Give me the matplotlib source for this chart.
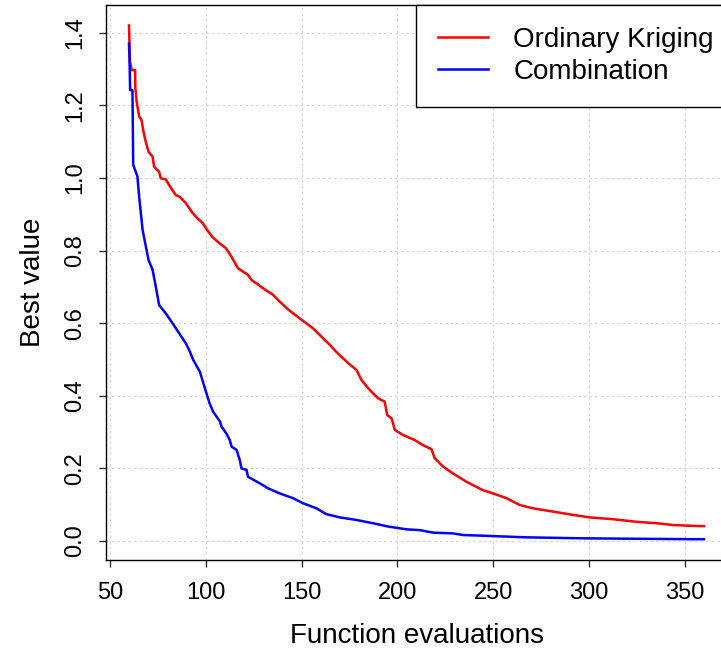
import matplotlib
matplotlib.use("Agg")
import matplotlib.pyplot as plt

plt.rcParams['font.family'] = ['Liberation Sans', 'DejaVu Sans']

# Ordinary Kriging (curve points)
ok_x = [60, 60.5, 61.5, 63.2, 63.3, 64, 65.3, 66.5, 67.5, 68.5, 70.2, 72.3, 73.1, 75.7, 76.6,
        79.2, 81, 84.4, 86.5, 89.6, 93.1, 95.5, 98.4, 101, 103.6, 107, 110.5, 113.5,
        116.9, 122.1, 123.9, 127, 130, 135.2, 138.7, 143, 149.1, 156, 160, 164.8, 168,
        171.7, 175, 178.7, 181.3, 185.6, 190, 193.4, 194.7, 197, 198.7, 203, 209.1,
        213.4, 217.8, 219.5, 223.9, 229.1, 236.1, 244.7, 250, 256.9, 263.9, 270.8,
        281.2, 291.7, 300.4, 312.6, 324.7, 335.2, 343.9, 357.8, 360]
ok_y = [1.42, 1.32, 1.297, 1.297, 1.25, 1.21, 1.169, 1.16, 1.13, 1.105, 1.072, 1.059, 1.031,
        1.017, 0.999, 0.996, 0.98, 0.953, 0.948, 0.931, 0.904, 0.89, 0.876, 0.855,
        0.837, 0.821, 0.807, 0.783, 0.751, 0.733, 0.719, 0.708, 0.696, 0.678, 0.659,
        0.638, 0.613, 0.586, 0.565, 0.54, 0.522, 0.503, 0.487, 0.471, 0.4435, 0.416,
        0.393, 0.384, 0.347, 0.338, 0.306, 0.292, 0.278, 0.264, 0.253, 0.228, 0.205,
        0.186, 0.163, 0.14, 0.131, 0.118, 0.099, 0.09, 0.081, 0.072, 0.065, 0.06,
        0.053, 0.049, 0.044, 0.041, 0.041]

# Combination (curve points)
cb_x = [60, 60.3, 60.6, 61.8, 62.2, 64.4, 65.3, 67.1, 68.8, 70.2, 72.3, 74, 75.7, 79.2, 82.7,
        86.2, 89.6, 91.4, 93.5, 97, 98.5, 100.4, 102, 103.9, 107.4, 108.3, 110.9,
        112.6, 113.5, 116.1, 117.8, 118.7, 121.3, 122.1, 128.2, 132.6, 138.7, 145.6,
        150.8, 157.8, 163, 170, 178.7, 189.1, 195, 200, 205, 211.7, 218.7, 229, 234.3,
        249.1, 266.5, 296.9, 353.5, 360]
cb_y = [1.37, 1.32, 1.242, 1.242, 1.036, 1.004, 0.948, 0.857, 0.811, 0.774, 0.747, 0.70, 0.65,
        0.627, 0.60, 0.572, 0.545, 0.526, 0.499, 0.466, 0.44, 0.407, 0.38, 0.356, 0.33,
        0.315, 0.295, 0.278, 0.26, 0.251, 0.223, 0.2, 0.196, 0.177, 0.159, 0.145,
        0.131, 0.118, 0.104, 0.09, 0.074, 0.065, 0.058, 0.047, 0.04, 0.036, 0.032,
        0.030, 0.023, 0.021, 0.0165, 0.0138, 0.0102, 0.0074, 0.005, 0.005]

series_labels = ["Ordinary Kriging", "Combination"]
x_ticks = [50, 100, 150, 200, 250, 300, 350]
y_ticks = [0.0, 0.2, 0.4, 0.6, 0.8, 1.0, 1.2, 1.4]
y_ticklabels = ["0.0", "0.2", "0.4", "0.6", "0.8", "1.0", "1.2", "1.4"]

W, H = 721, 648
fig = plt.figure(figsize=(W / 100, H / 100), dpi=100)
ax = fig.add_axes([106 / W, 1 - 560 / H, 621 / W, (560 - 4.8) / H])

ax.plot(ok_x, ok_y, color='#ff0000', lw=1.8, label=series_labels[0])
ax.plot(cb_x, cb_y, color='#0000ff', lw=1.8, label=series_labels[1])

ax.set_xlim(48, 372)
ax.set_ylim(-0.0523, 1.477)
ax.set_xticks(x_ticks)
ax.set_yticks(y_ticks)
ax.set_yticklabels(y_ticklabels, rotation=90, va='center')
ax.grid(True, color='#d3d3d3', linestyle=(0, (2, 3)), linewidth=0.8)
ax.set_axisbelow(True)

for s in ax.spines.values():
    s.set_color('black')
    s.set_linewidth(1.0)
ax.tick_params(direction='out', length=5, width=1, color='#333333', labelsize=17)
ax.tick_params(axis='x', pad=10.5)
ax.tick_params(axis='y', pad=9)

ax.set_xlabel("Function evaluations", fontsize=20, labelpad=14)
ax.set_ylabel("Best value", fontsize=20, labelpad=13)

leg = ax.legend(loc='upper right', bbox_to_anchor=(1 + 9 / 621, 1), borderaxespad=0,
                fontsize=20, handlelength=1.8, handletextpad=0.9, borderpad=0.8,
                labelspacing=0.22, fancybox=False, framealpha=1, edgecolor='black')
leg.get_frame().set_linewidth(1.0)

fig.savefig("out.png", dpi=100)
